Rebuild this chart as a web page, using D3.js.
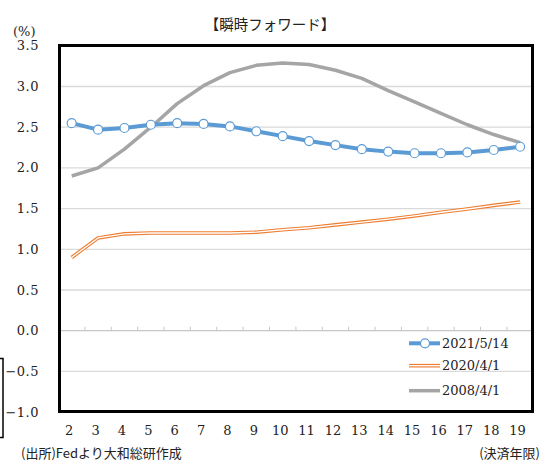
<!DOCTYPE html>
<html>
<head>
<meta charset="utf-8">
<script src="https://cdn.jsdelivr.net/npm/d3@7"></script>
<style>
  body { margin: 0; background: #fff; }
  text { fill: #222; }
  .num { font-family: "DejaVu Serif", "Liberation Serif", serif; font-size: 13px; }
  .jp { font-family: "Noto Sans CJK JP", sans-serif; }
</style>
</head>
<body>
<div id="chart"></div>
<script>
const categories = ["2","3","4","5","6","7","8","9","10","11","12","13","14","15","16","17","18","19"];
const yTicks = [-1.0, -0.5, 0.0, 0.5, 1.0, 1.5, 2.0, 2.5, 3.0, 3.5];
const s2021 = [2.55, 2.47, 2.49, 2.53, 2.55, 2.54, 2.51, 2.45, 2.39, 2.33, 2.28, 2.23, 2.20, 2.18, 2.18, 2.19, 2.22, 2.26];
const s2020 = [0.90, 1.14, 1.19, 1.20, 1.20, 1.20, 1.20, 1.21, 1.24, 1.265, 1.30, 1.335, 1.37, 1.41, 1.455, 1.495, 1.54, 1.58];
const s2008 = [1.90, 2.00, 2.23, 2.50, 2.79, 3.01, 3.17, 3.26, 3.29, 3.27, 3.20, 3.10, 2.95, 2.81, 2.67, 2.53, 2.41, 2.31];
const seriesNames = ["2021/5/14", "2020/4/1", "2008/4/1"];

const width = 541;
const height = 461;

const svg = d3.select("#chart").append("svg")
  .attr("width", width)
  .attr("height", height);

const x = d3.scaleBand().domain(categories).range([58.5, 533.3]).padding(0);
const cx = (c) => x(c) + x.bandwidth() / 2;
const y = d3.scaleLinear().domain([-1, 3.5]).range([412.1, 45.8]);

// gridlines
svg.append("g")
  .selectAll("line")
  .data(yTicks.filter((d) => d > -1 && d < 3.5))
  .join("line")
  .attr("x1", 59).attr("x2", 533)
  .attr("y1", (d) => y(d)).attr("y2", (d) => y(d))
  .attr("stroke", (d) => d === 0 ? "#c8c8c8" : "#dadada")
  .attr("stroke-width", 1.3);

// small ticks on the zero line
svg.append("g")
  .selectAll("line")
  .data(categories.slice(1))
  .join("line")
  .attr("x1", (d) => x(d)).attr("x2", (d) => x(d))
  .attr("y1", y(0)).attr("y2", y(0) - 4)
  .attr("stroke", "#c8c8c8")
  .attr("stroke-width", 1);

// y labels
svg.append("g")
  .selectAll("text")
  .data(yTicks)
  .join("text")
  .attr("class", "num")
  .attr("x", 39)
  .attr("y", (d) => y(d))
  .attr("text-anchor", "end")
  .attr("dominant-baseline", "central")
  .style("letter-spacing", "0.5px")
  .text((d) => d3.format(".1f")(d));

// x labels
svg.append("g")
  .selectAll("text")
  .data(categories)
  .join("text")
  .attr("class", "num")
  .attr("x", (d) => cx(d) - 2.5)
  .attr("y", 430)
  .attr("text-anchor", "middle")
  .attr("dominant-baseline", "central")
  .text((d) => d);

const line = d3.line()
  .x((d, i) => cx(categories[i]))
  .y((d) => y(d));

// 2008 grey
svg.append("path")
  .attr("d", line(s2008))
  .attr("fill", "none")
  .attr("stroke", "#a5a5a5")
  .attr("stroke-width", 3.5)
  .attr("stroke-linejoin", "round");

// 2020 orange double line
svg.append("path")
  .attr("d", line(s2020))
  .attr("fill", "none")
  .attr("stroke", "#ed7d31")
  .attr("stroke-width", 3.6)
  .attr("stroke-linejoin", "round");
svg.append("path")
  .attr("d", line(s2020))
  .attr("fill", "none")
  .attr("stroke", "#fff")
  .attr("stroke-width", 1.3)
  .attr("stroke-linejoin", "round");

// 2021 blue with markers
svg.append("path")
  .attr("d", line(s2021))
  .attr("fill", "none")
  .attr("stroke", "#5b9bd5")
  .attr("stroke-width", 4)
  .attr("stroke-linejoin", "round");
svg.append("g")
  .selectAll("circle")
  .data(s2021)
  .join("circle")
  .attr("cx", (d, i) => cx(categories[i]))
  .attr("cy", (d) => y(d))
  .attr("r", 4.5)
  .attr("fill", "#fff")
  .attr("stroke", "#5b9bd5")
  .attr("stroke-width", 1.2);

// legend
const legendY = [343.3, 365.7, 390.7];
const lg = svg.append("g");
lg.append("line").attr("x1", 409).attr("x2", 440).attr("y1", legendY[0]).attr("y2", legendY[0])
  .attr("stroke", "#5b9bd5").attr("stroke-width", 4);
lg.append("circle").attr("cx", 425).attr("cy", legendY[0]).attr("r", 4.5)
  .attr("fill", "#fff").attr("stroke", "#5b9bd5").attr("stroke-width", 1.2);
lg.append("line").attr("x1", 409).attr("x2", 440).attr("y1", legendY[1]).attr("y2", legendY[1])
  .attr("stroke", "#ed7d31").attr("stroke-width", 3.6);
lg.append("line").attr("x1", 409).attr("x2", 440).attr("y1", legendY[1]).attr("y2", legendY[1])
  .attr("stroke", "#fff").attr("stroke-width", 1.3);
lg.append("line").attr("x1", 409).attr("x2", 440).attr("y1", legendY[2]).attr("y2", legendY[2])
  .attr("stroke", "#a5a5a5").attr("stroke-width", 3.5);
lg.selectAll("text")
  .data(seriesNames)
  .join("text")
  .attr("class", "num")
  .attr("x", 442)
  .attr("y", (d, i) => legendY[i])
  .attr("dominant-baseline", "central")
  .text((d) => d);

// plot frame
svg.append("rect")
  .attr("x", 59.5).attr("y", 45.5)
  .attr("width", 473).attr("height", 366)
  .attr("fill", "none")
  .attr("stroke", "#000")
  .attr("stroke-width", 3);

// stray box edge at left
svg.append("rect")
  .attr("x", -20).attr("y", 358.5)
  .attr("width", 23).attr("height", 79)
  .attr("fill", "none")
  .attr("stroke", "#000")
  .attr("stroke-width", 1.5);

// texts
svg.append("text")
  .attr("class", "jp")
  .attr("x", 270).attr("y", 23)
  .attr("text-anchor", "middle")
  .attr("dominant-baseline", "central")
  .style("font-size", "14.5px")
  .text("【瞬時フォワード】");

svg.append("text")
  .attr("class", "num")
  .attr("x", 13).attr("y", 31)
  .attr("dominant-baseline", "central")
  .text("(%)");

svg.append("text")
  .attr("class", "jp")
  .attr("x", 21).attr("y", 452)
  .attr("dominant-baseline", "central")
  .style("font-size", "13px")
  .text("(出所)Fedより大和総研作成");

svg.append("text")
  .attr("class", "jp")
  .attr("x", 540).attr("y", 452)
  .attr("text-anchor", "end")
  .attr("dominant-baseline", "central")
  .style("font-size", "13px")
  .text("(決済年限)");
</script>
</body>
</html>
